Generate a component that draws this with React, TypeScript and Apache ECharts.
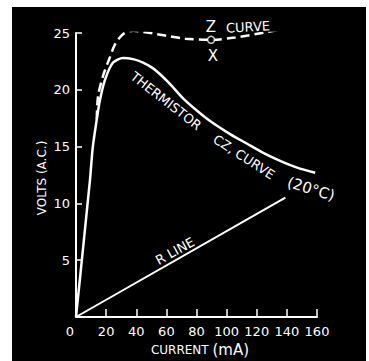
import React, { useEffect, useRef } from "react";
import * as echarts from "echarts";

const xTicks = [0, 20, 40, 60, 80, 100, 120, 140, 160];
const yTicks = [0, 5, 10, 15, 20, 25];

const thermCurrent = [0, 9.3, 11.1, 13.8, 15.9, 19.3, 24.6, 31.2, 37.9, 44.5, 50.5, 56.0, 62.5, 71.1, 80.4, 89.0, 102.3, 113.6, 124.3, 135.5, 146.8, 158.8];
const thermVolts = [0, 12.1, 14.9, 17.4, 19.1, 20.9, 22.4, 22.8, 22.7, 22.4, 21.95, 21.35, 20.5, 19.25, 18.15, 17.25, 16.1, 15.25, 14.45, 13.75, 13.15, 12.7];

const zCurrent = [13.8, 14.6, 17.9, 22.6, 25.9, 31.2, 37.9, 44.5, 53.8, 62.5, 72.4, 89.7, 105.6, 127.6, 160.1];
const zVolts = [17.4, 19.4, 21.2, 22.9, 24.0, 24.9, 25.2, 25.1, 24.9, 24.7, 24.5, 24.4, 24.6, 25.1, 25.9];

const rCurrent = [0, 139];
const rVolts = [0, 10.5];

const pointX = [89.7];
const pointY = [24.4];

const FONT = "DejaVu Sans";

export default function App() {
  const ref = useRef<HTMLDivElement>(null);
  useEffect(() => {
    if (!ref.current) return;
    const chart = echarts.init(ref.current, null, { renderer: "svg" });
    const zip = (a: number[], b: number[]) => a.map((v, i) => [v, b[i]]);
    const deg = (d: number) => (d * Math.PI) / 180;
    const txt = (text: string, x: number, y: number, rot: number, size: number) => ({
      type: "text",
      x,
      y,
      rotation: deg(rot),
      z: 10,
      style: {
        text,
        fill: "#fff",
        font: `${size}px "${FONT}"`,
        textAlign: "center",
        textVerticalAlign: "middle",
      },
    });
    chart.setOption({
      animation: false,
      backgroundColor: "#fff",
      textStyle: { fontFamily: FONT },
      grid: { left: 76, right: 52, top: 33, bottom: 44, containLabel: false },
      xAxis: {
        type: "value",
        min: 0,
        max: 160,
        interval: 20,
        axisLine: { show: true, lineStyle: { color: "#fff", width: 2 } },
        axisTick: { show: true, inside: true, length: 8, lineStyle: { color: "#fff", width: 1.5 } },
        axisLabel: {
          color: "#fff",
          fontSize: 13,
          margin: 8,
          formatter: (v: number) => (v === 0 ? "{z|" + xTicks[0] + "}" : String(v)),
          rich: { z: { color: "#fff", fontSize: 13, padding: [0, 12, 0, 0] } },
        },
        splitLine: { show: false },
      },
      yAxis: {
        type: "value",
        min: 0,
        max: 25,
        interval: 5,
        axisLine: { show: true, lineStyle: { color: "#fff", width: 2 } },
        axisTick: { show: true, inside: true, length: 6, lineStyle: { color: "#fff", width: 1.5 } },
        axisLabel: {
          color: "#fff",
          fontSize: 13,
          margin: 6,
          formatter: (v: number) => (v === yTicks[0] ? "" : String(v)),
        },
        splitLine: { show: false },
      },
      series: [
        {
          type: "line",
          data: zip(thermCurrent, thermVolts),
          smooth: 0.25,
          showSymbol: false,
          lineStyle: { color: "#fff", width: 2.5 },
          z: 3,
        },
        {
          type: "line",
          data: zip(zCurrent, zVolts),
          smooth: 0.3,
          showSymbol: false,
          lineStyle: { color: "#fff", width: 2.5, type: [9, 5] },
          z: 3,
        },
        {
          type: "line",
          data: zip(rCurrent, rVolts),
          showSymbol: false,
          lineStyle: { color: "#fff", width: 2 },
          z: 3,
        },
        {
          type: "scatter",
          data: zip(pointX, pointY),
          symbol: "circle",
          symbolSize: 7,
          itemStyle: { color: "#000", borderColor: "#fff", borderWidth: 1.5 },
          z: 5,
        },
      ],
      graphic: [
        {
          type: "rect",
          z: -10,
          silent: true,
          shape: { x: 12, y: 7, width: 354, height: 354 },
          style: { fill: "#000" },
        },
        txt("THERMISTOR", 166, 101, -38, 13),
        txt("CZ, CURVE", 244, 157, -33, 13),
        txt("(20°C)", 311, 189, -17, 15),
        txt("R LINE", 175, 251, 29, 13),
        txt("Z", 211, 27, 0, 15),
        txt("CURVE", 248, 27, 3, 13),
        txt("X", 213, 56, 0, 15),
        txt("VOLTS (A.C.)", 42, 178, 90, 12),
        {
          type: "text",
          x: 200,
          y: 350,
          z: 10,
          style: {
            text: "{a|CURRENT }{b|(mA)}",
            fill: "#fff",
            textAlign: "center",
            textVerticalAlign: "middle",
            rich: {
              a: { fill: "#fff", fontSize: 12, fontFamily: FONT },
              b: { fill: "#fff", fontSize: 15, fontFamily: FONT },
            },
          },
        },
      ],
    });
    return () => chart.dispose();
  }, []);
  return (
    <div
      ref={ref}
      style={{ position: "absolute", left: 0, top: 0, width: 369, height: 361 }}
    />
  );
}
